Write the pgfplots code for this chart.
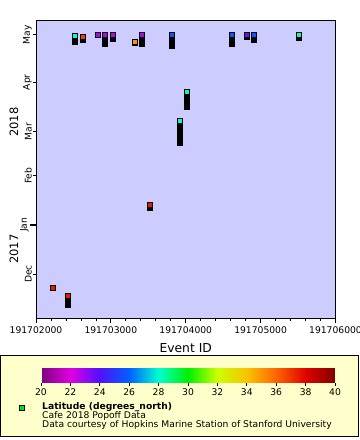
\documentclass[border=0pt]{standalone}
\usepackage{fontspec}
\setmainfont{DejaVu Sans}
\usepackage{pgfplots}
\usepackage{pgfplotstable}
\pgfplotsset{compat=1.18}
\definecolor{plotbg}{RGB}{204,204,255}
\definecolor{legbg}{RGB}{255,255,204}
\definecolor{leggreen}{RGB}{0,230,0}
\newcommand\tk{\fontsize{9.2bp}{11bp}\selectfont}
\newcommand\lbl{\fontsize{12.3bp}{14bp}\selectfont}
\newcommand\yr{\fontsize{11.5bp}{13bp}\selectfont}

% id  = Event ID - 191700000
% t   = time of the marker, days from 1 Jan 2018
% d   = length of the black bar below the marker, days
% lat = latitude (degrees_north)
\pgfplotstableread{
id    t       d      lat
2521  119.2   5.7    28.0
2628  118.6   3.8    36.8
2828  119.8   0      22.6
2922  119.8   7.5    22.6
3028  119.8   4.4    22.6
3322  115.4   2.5    35.0
3416  119.8   7.5    22.6
3816  119.8   8.8    25.8
4618  119.8   7.5    25.8
4818  119.8   3.1    23.6
4912  119.8   5.0    25.8
5513  119.8   3.8    28.2
4017  83.85   11.35  28.4
3923  65.55   15.75  28.0
3523  12.5    3.8    37.5
2227  -39.9   0      37.5
2427  -44.9   7.6    37.5
}\events

\begin{document}
\begin{tikzpicture}
% legend box
\draw[fill=legbg, line width=1bp] (0.5bp,-355bp) rectangle (358.5bp,-436bp);

\begin{axis}[
  at={(36bp,-20bp)}, anchor=north west,
  scale only axis, width=299.5bp, height=298bp,
  xmin=2000, xmax=6000, ymin=-58.8, ymax=129.3,
  axis background/.style={fill=plotbg},
  axis line style={line width=1bp},
  tick style={black, line width=0.8bp},
  tick align=outside, major tick length=3bp, minor tick length=3bp,
  tick pos=left,
  xtick={2000,3000,4000,5000,6000},
  xticklabels={191702000,191703000,191704000,191705000,191706000},
  minor x tick num=4,
  extra x ticks={2000,3000,4000,5000,6000}, extra x tick labels={},
  extra x tick style={grid=none, major tick length=5bp},
  ytick={-31,31,59,90,120}, yticklabels={Dec,Feb,Mar,Apr,May},
  extra y ticks={0}, extra y tick labels={Jan},
  extra y tick style={grid=none, major tick length=6bp, tick style={line width=2bp}},
  xticklabel style={font=\tk, yshift=-2.5bp},
  yticklabel style={font=\tk, rotate=90, anchor=south, inner sep=1bp},
  xlabel={Event ID}, xlabel style={font=\lbl, yshift=5bp},
  colormap={erd}{rgb255=(128,0,128) rgb255=(224,0,224) rgb255=(80,16,255)
    rgb255=(0,96,255) rgb255=(0,255,208) rgb255=(0,240,0) rgb255=(204,255,0)
    rgb255=(250,195,0) rgb255=(255,100,0) rgb255=(224,0,0) rgb255=(128,0,0)},
  point meta min=20, point meta max=40,
  colorbar horizontal,
  colorbar style={
    at={(parent axis.south west)}, anchor=north west,
    xshift=5bp, yshift=-41bp,
    scale only axis, width=294bp, height=15bp,
    xtick={20,22,...,40}, extra x ticks={},
    xticklabel style={font=\tk, /pgf/number format/assume math mode=true},
    axis line style={draw=none},
    tick style={black, line width=0.8bp},
    tick align=outside, major tick length=3bp,
    xtick pos=left,
  },
]
% black bars
\addplot[only marks, mark=none, forget plot,
  error bars/.cd, y dir=minus, y explicit, error mark=none,
  error bar style={draw=black, line width=6bp}]
  table[x=id, y=t, y error minus=d] {\events};
% coloured markers
\addplot[scatter, only marks, mark=square*, mark size=2.6bp,
  point meta=explicit,
  scatter/use mapped color={draw=black, fill=mapped color},
  mark options={line width=0.9bp}]
  table[x=id, y=t, meta=lat] {\events};
\end{axis}

\node[rotate=90, font=\yr] at (14bp,-122bp) {2018};
\node[rotate=90, font=\yr] at (14bp,-249bp) {2017};

% legend
\draw[fill=leggreen, line width=0.8bp] (19.5bp,-405bp) rectangle (24.5bp,-410bp);
\node[anchor=base west, font=\tk\bfseries, inner sep=0] at (42bp,-409.5bp) {Latitude (degrees\_north)};
\node[anchor=base west, font=\tk, inner sep=0] at (42bp,-418.5bp) {Cafe 2018 Popoff Data};
\node[anchor=base west, font=\tk, inner sep=0] at (42bp,-427.5bp) {Data courtesy of Hopkins Marine Station of Stanford University};

\pgfresetboundingbox
\path[use as bounding box] (0,0) rectangle (360bp,-440bp);
\end{tikzpicture}
\end{document}
